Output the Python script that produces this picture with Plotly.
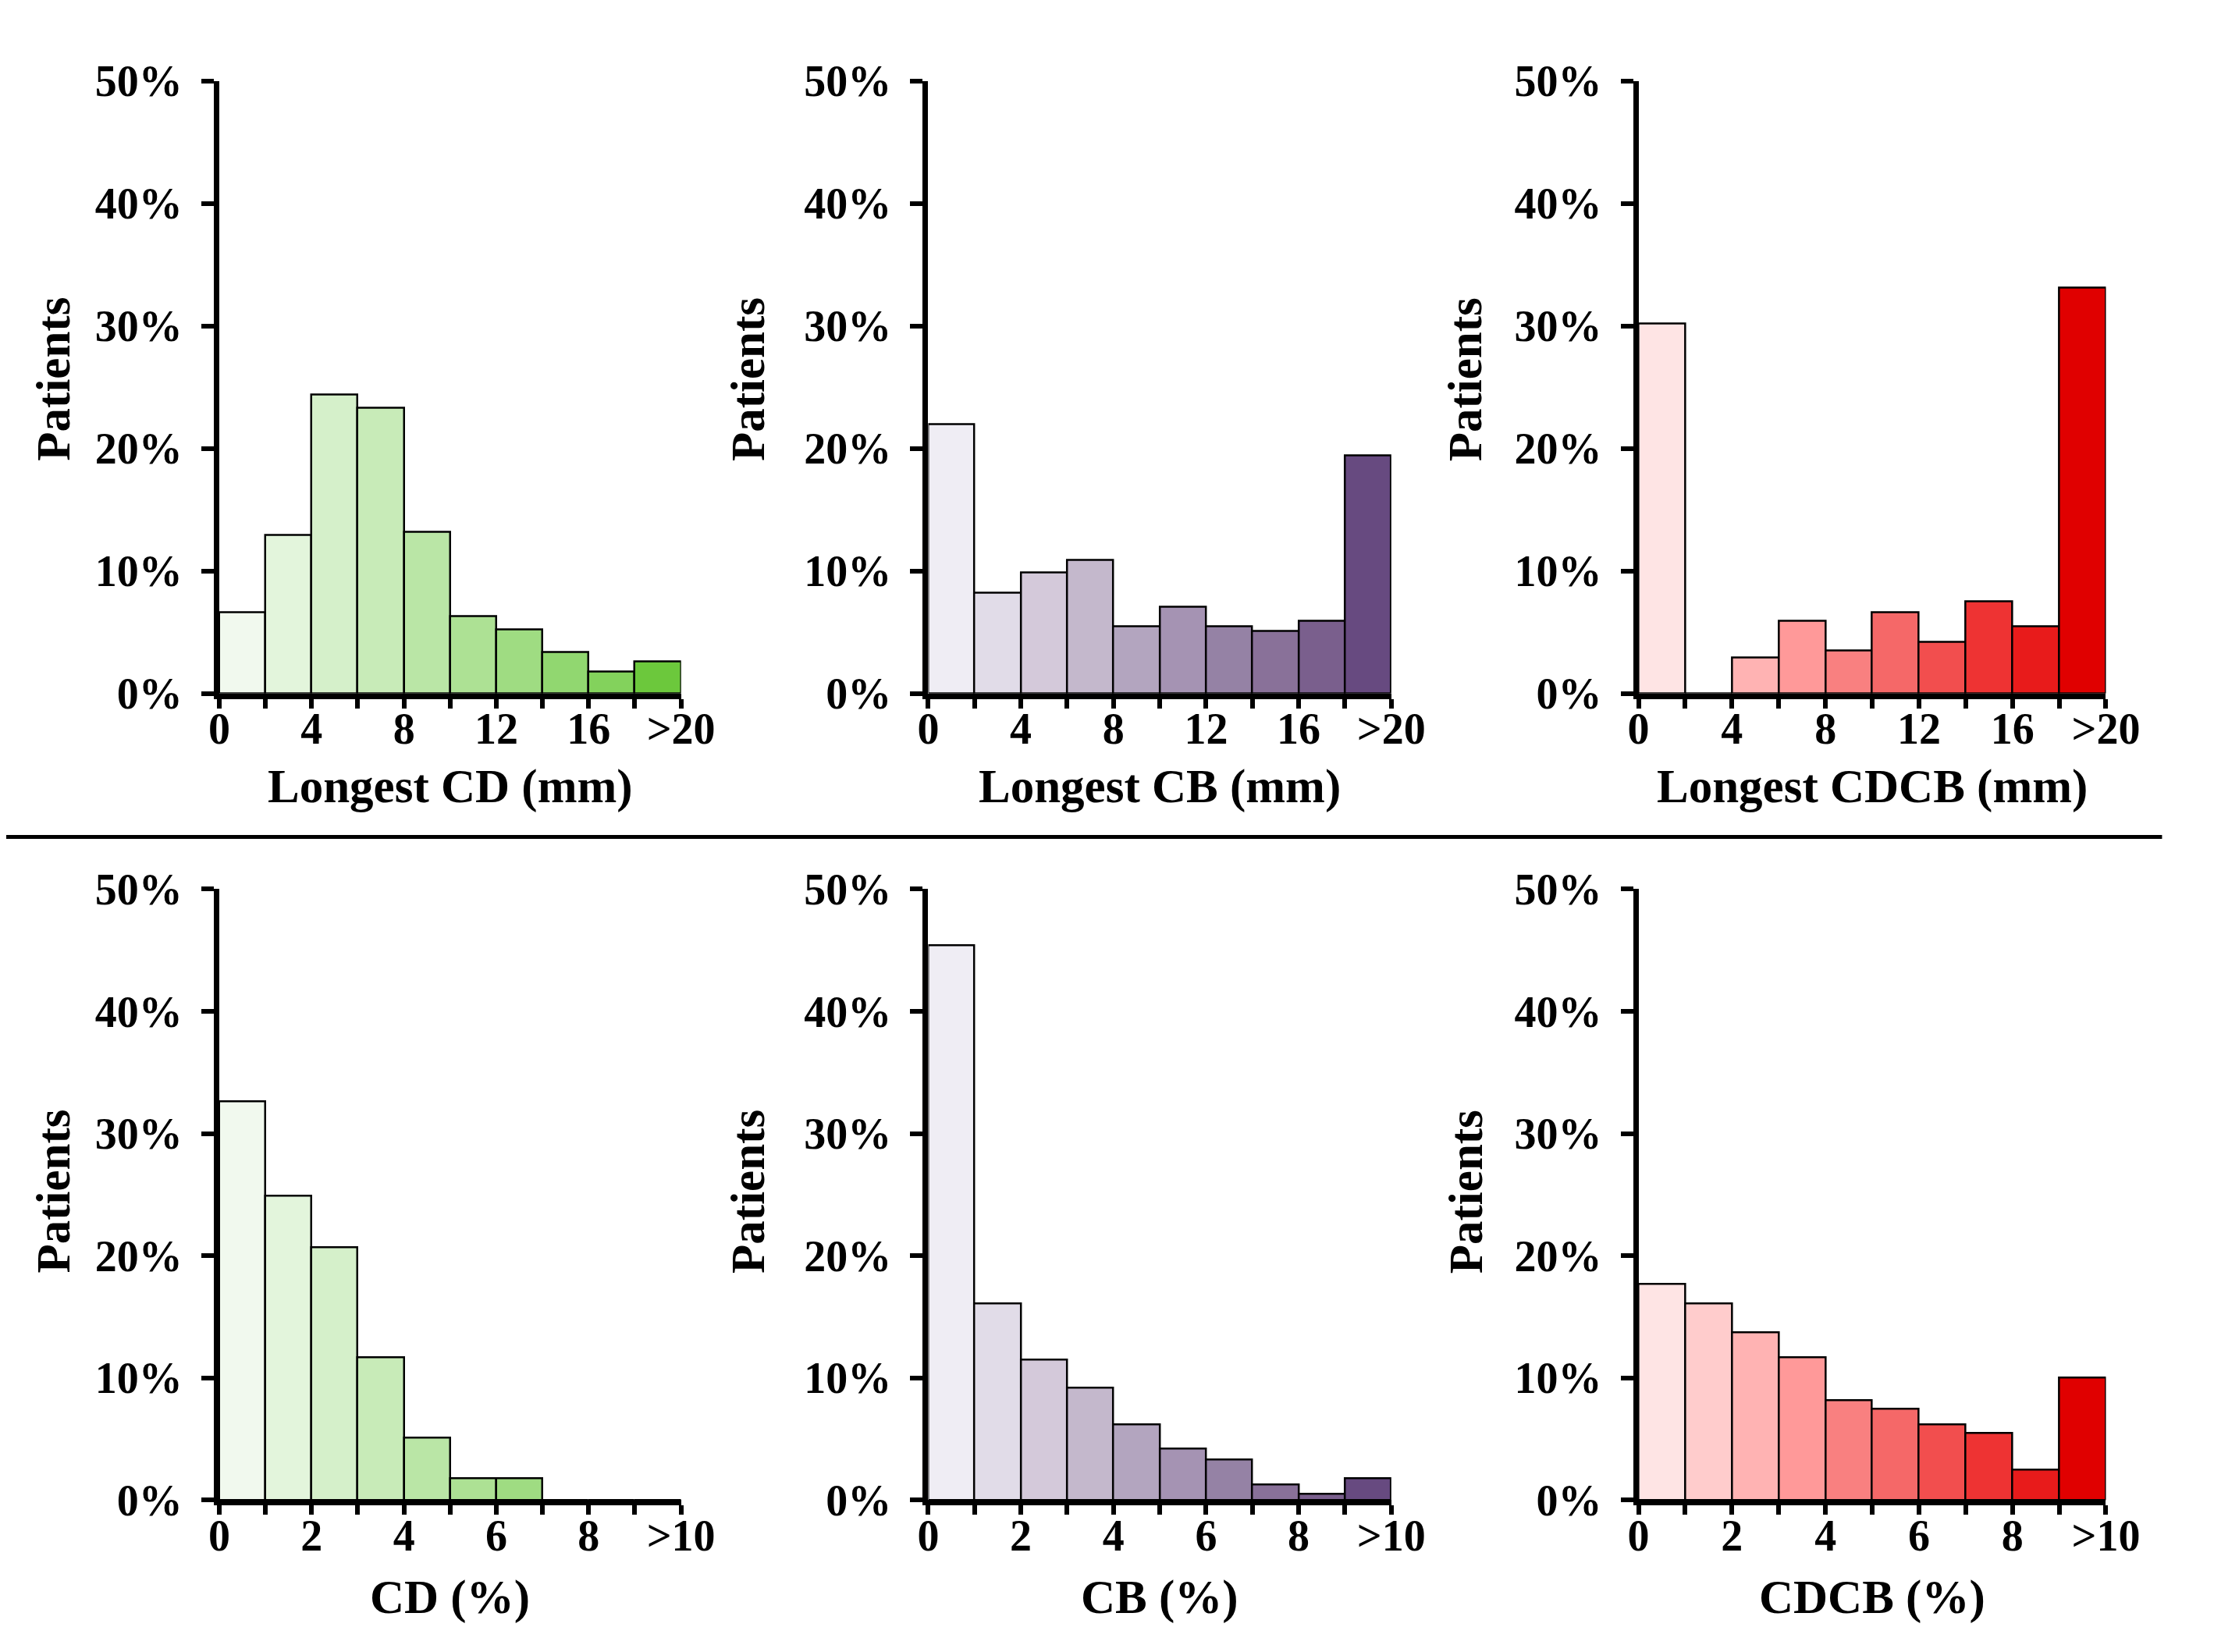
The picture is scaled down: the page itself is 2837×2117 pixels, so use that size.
import plotly.graph_objects as go

# ---------------- data ----------------
mm_edges = [0, 2, 4, 6, 8, 10, 12, 14, 16, 18, 20]
mm_tick_labels = ["0", "", "4", "", "8", "", "12", "", "16", "", ">20"]
pct_edges = [0, 1, 2, 3, 4, 5, 6, 7, 8, 9, 10]
pct_tick_labels = ["0", "", "2", "", "4", "", "6", "", "8", "", ">10"]
y_ticks = [0, 10, 20, 30, 40, 50]
y_tick_labels = ["0%", "10%", "20%", "30%", "40%", "50%"]

longest_cd = [6.6, 12.9, 24.4, 23.3, 13.2, 6.3, 5.2, 3.4, 1.8, 2.6]
longest_cb = [22.0, 8.2, 9.9, 10.9, 5.5, 7.1, 5.5, 5.1, 5.9, 19.4]
longest_cdcb = [30.2, 0.0, 2.9, 5.9, 3.5, 6.6, 4.2, 7.5, 5.5, 33.1]
cd_pct = [32.6, 24.9, 20.7, 11.7, 5.1, 1.8, 1.8, 0.0, 0.0, 0.0]
cb_pct = [45.4, 16.1, 11.5, 9.2, 6.2, 4.2, 3.3, 1.3, 0.5, 1.8]
cdcb_pct = [17.7, 16.1, 13.7, 11.7, 8.2, 7.5, 6.2, 5.5, 2.5, 10.0]

green = ["#f1f9ee", "#e3f5dc", "#d5f0ca", "#c8ebb8", "#bae6a6",
         "#ade194", "#9fdc82", "#91d770", "#83d25c", "#6cc83c"]
purple = ["#efedf4", "#e1dce8", "#d4c9da", "#c4b8cc", "#b3a5bf",
          "#a593b3", "#9582a5", "#897199", "#7a5f8d", "#674a80"]
red = ["#fee4e4", "#ffcccc", "#ffb3b3", "#ff9999", "#f98080",
       "#f56868", "#f24e4e", "#ee3333", "#e81b1b", "#e00000"]

panels = [
    (longest_cd, green, mm_edges, mm_tick_labels, "Longest CD (mm)"),
    (longest_cb, purple, mm_edges, mm_tick_labels, "Longest CB (mm)"),
    (longest_cdcb, red, mm_edges, mm_tick_labels, "Longest CDCB (mm)"),
    (cd_pct, green, pct_edges, pct_tick_labels, "CD (%)"),
    (cb_pct, purple, pct_edges, pct_tick_labels, "CB (%)"),
    (cdcb_pct, red, pct_edges, pct_tick_labels, "CDCB (%)"),
]

# ---------------- layout ----------------
W, H = 2837, 2117
x_domains = [[0.0932, 0.3061], [0.4201, 0.6336], [0.7476, 0.9631]]
y_domains = [[0.586, 0.968], [0.083, 0.464]]
ylabel_x = [0.0168, 0.3372, 0.668]
ylabel_y = [0.782, 0.2755]
xtitle_y = [0.528, 0.0223]

FONT = "Liberation Serif"
tick_font = dict(family=FONT, size=56, color="black", weight="bold")
title_font = dict(family=FONT, size=61, color="black", weight="bold")

fig = go.Figure()
annotations = []
layout = {}

for i, (vals, cols, edges, tlabels, xtitle) in enumerate(panels):
    r, c = divmod(i, 3)
    n = i + 1
    xa = "x" if n == 1 else f"x{n}"
    ya = "y" if n == 1 else f"y{n}"
    centers = [(edges[k] + edges[k + 1]) / 2 for k in range(len(vals))]
    widths = [edges[k + 1] - edges[k] for k in range(len(vals))]
    fig.add_trace(go.Bar(
        x=centers, y=vals, width=widths,
        marker=dict(color=cols, line=dict(color="black", width=2.5)),
        xaxis=xa, yaxis=ya, showlegend=False,
    ))
    layout[f"xaxis{'' if n == 1 else n}"] = dict(
        domain=x_domains[c], anchor=ya, range=[edges[0], edges[-1]],
        tickmode="array", tickvals=edges, ticktext=tlabels,
        ticks="outside", ticklen=12, tickwidth=6, tickcolor="black",
        showline=True, linewidth=7, linecolor="black",
        showgrid=False, zeroline=False, tickfont=tick_font,
        ticklabelstandoff=-22, fixedrange=True,
    )
    layout[f"yaxis{'' if n == 1 else n}"] = dict(
        domain=y_domains[r], anchor=xa, range=[0, 50],
        tickmode="array", tickvals=y_ticks, ticktext=y_tick_labels,
        ticks="outside", ticklen=16, tickwidth=6, tickcolor="black",
        showline=True, linewidth=7, linecolor="black",
        showgrid=False, zeroline=False, tickfont=tick_font,
        ticklabelstandoff=13, fixedrange=True,
    )
    annotations.append(dict(
        text=xtitle, xref="paper", yref="paper",
        x=sum(x_domains[c]) / 2, y=xtitle_y[r],
        xanchor="center", yanchor="middle", showarrow=False, font=title_font,
    ))
    annotations.append(dict(
        text="Patients", xref="paper", yref="paper",
        x=ylabel_x[c], y=ylabel_y[r], textangle=-90,
        xanchor="center", yanchor="middle", showarrow=False, font=title_font,
    ))

fig.update_layout(
    width=W, height=H,
    margin=dict(l=0, r=0, t=0, b=0),
    paper_bgcolor="white", plot_bgcolor="white",
    bargap=0, annotations=annotations,
    shapes=[dict(type="line", xref="paper", yref="paper",
                 x0=-0.01, x1=0.989, y0=0.4966, y1=0.4966,
                 line=dict(color="black", width=5))],
    **layout,
)

fig.write_html("out.html")
